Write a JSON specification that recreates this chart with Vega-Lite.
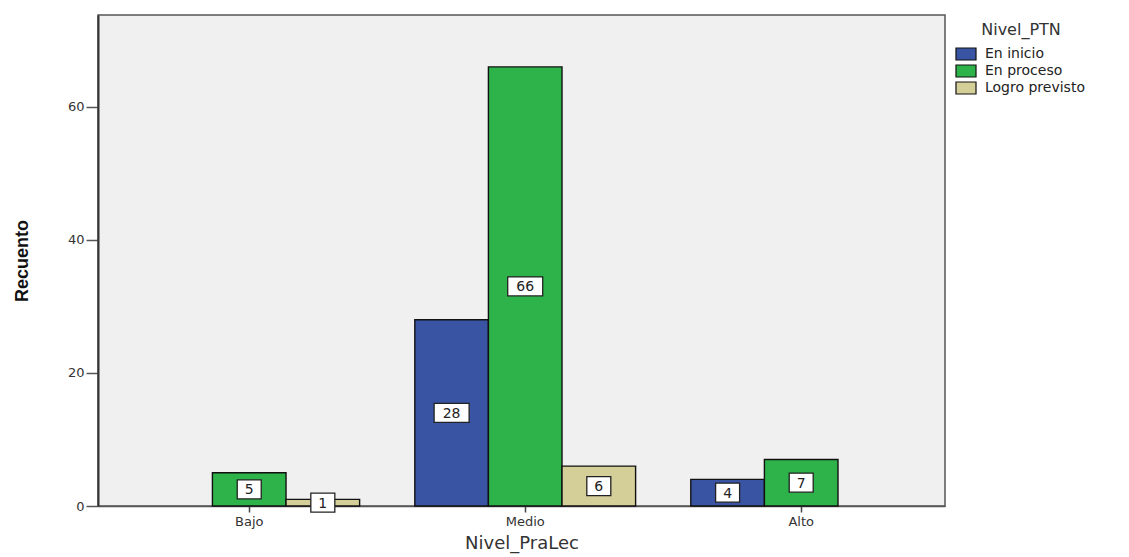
{
  "$schema": "https://vega.github.io/schema/vega-lite/v6.json",
  "autosize": {"type": "none"},
  "width": 847,
  "height": 491,
  "padding": {"left": 98, "top": 15, "right": 184, "bottom": 51},
  "background": "white",
  "config": {
    "view": {"fill": "#F0F0F0", "stroke": "#555555", "strokeWidth": 1.5},
    "font": "DejaVu Sans"
  },
  "data": {
    "values": [
      {"nivel": "Bajo", "ptn": "En proceso", "n": 5},
      {"nivel": "Bajo", "ptn": "Logro previsto", "n": 1},
      {"nivel": "Medio", "ptn": "En inicio", "n": 28},
      {"nivel": "Medio", "ptn": "En proceso", "n": 66},
      {"nivel": "Medio", "ptn": "Logro previsto", "n": 6},
      {"nivel": "Alto", "ptn": "En inicio", "n": 4},
      {"nivel": "Alto", "ptn": "En proceso", "n": 7}
    ]
  },
  "transform": [{"calculate": "datum.n / 2", "as": "centro"}],
  "encoding": {
    "x": {
      "field": "nivel",
      "type": "nominal",
      "sort": ["Bajo", "Medio", "Alto"],
      "scale": {"paddingInner": 0.2, "paddingOuter": 0.1345, "align": 0.55},
      "axis": {
        "title": "Nivel_PraLec",
        "titleFont": "DejaVu Sans",
        "titleFontSize": 18,
        "titleFontWeight": "normal",
        "titleColor": "#333333",
        "titlePadding": 6,
        "labelAngle": 0,
        "labelFont": "DejaVu Sans",
        "labelFontSize": 13,
        "labelColor": "#333333",
        "labelPadding": 3,
        "tickColor": "#444444",
        "tickSize": 6,
        "tickWidth": 1.5,
        "domainColor": "#555555",
        "domainWidth": 1.5
      }
    },
    "xOffset": {
      "field": "ptn",
      "type": "nominal",
      "scale": {"domain": ["En inicio", "En proceso", "Logro previsto"], "paddingInner": 0, "paddingOuter": 0}
    }
  },
  "layer": [
    {
      "mark": {"type": "bar", "stroke": "#111111", "strokeWidth": 1.4},
      "encoding": {
        "y": {
          "field": "n",
          "type": "quantitative",
          "scale": {"domain": [0, 73.8], "nice": false},
          "axis": {
            "title": "Recuento",
            "titleFont": "Liberation Sans Narrow, Liberation Sans",
            "titleFontSize": 18,
            "titleFontWeight": "bold",
            "titleColor": "#111111",
            "titlePadding": 36,
            "values": [0, 20, 40, 60],
            "labelFont": "DejaVu Sans",
            "labelFontSize": 13,
            "labelColor": "#333333",
            "labelPadding": 2,
            "tickColor": "#555555",
            "tickSize": 12,
            "tickWidth": 1.5,
            "grid": false,
            "domainColor": "#333333",
            "domainWidth": 2
          }
        },
        "color": {
          "field": "ptn",
          "type": "nominal",
          "scale": {
            "domain": ["En inicio", "En proceso", "Logro previsto"],
            "range": ["#3A54A4", "#2DB34A", "#D4CE98"]
          },
          "legend": {
            "title": "Nivel_PTN",
            "orient": "none",
            "legendX": 860,
            "legendY": 7,
            "titleFont": "DejaVu Sans",
            "titleFontSize": 16,
            "titleFontWeight": "normal",
            "titleColor": "#333333",
            "titleAnchor": "middle",
            "titlePadding": 8,
            "labelFont": "DejaVu Sans",
            "labelFontSize": 14,
            "labelColor": "#222222",
            "labelOffset": 11,
            "labelLimit": 200,
            "rowPadding": -2,
            "symbolType": "M-1.43,-0.86H1.43V0.86H-1.43Z",
            "symbolSize": 196,
            "symbolStrokeColor": "#111111",
            "symbolStrokeWidth": 1.2
          }
        }
      }
    },
    {
      "mark": {
        "type": "point",
        "size": 400,
        "filled": true,
        "fill": "white",
        "stroke": "#222222",
        "strokeWidth": 1.3,
        "opacity": 1
      },
      "encoding": {
        "y": {"field": "centro", "type": "quantitative"},
        "shape": {
          "condition": {"test": "datum.n >= 10", "value": "M-1.75,-0.95H1.75V0.95H-1.75Z"},
          "value": "M-1.2,-0.95H1.2V0.95H-1.2Z"
        }
      }
    },
    {
      "mark": {"type": "text", "fontSize": 14, "font": "DejaVu Sans", "color": "#222222", "baseline": "middle", "dy": 1},
      "encoding": {
        "y": {"field": "centro", "type": "quantitative"},
        "text": {"field": "n", "type": "quantitative"}
      }
    }
  ]
}
